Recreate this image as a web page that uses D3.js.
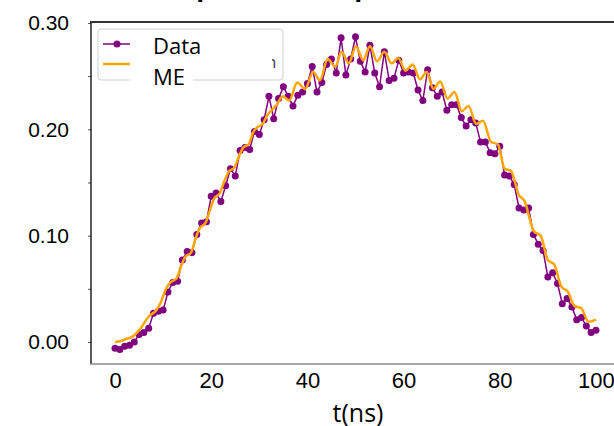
<!DOCTYPE html>
<html>
<head>
<meta charset="utf-8">
<script src="https://cdn.jsdelivr.net/npm/d3@7"></script>
<style>
  body { margin: 0; background: #fff; }
  svg { display: block; font-family: "Open Sans", sans-serif; }
</style>
</head>
<body>
<div id="chart"></div>
<script>
// measured population (one point per ns)
const tData = d3.range(0, 101);
const popData = [
  -0.006, -0.007, -0.004, -0.003, 0.000, 0.007, 0.009, 0.013, 0.027, 0.029,
  0.030, 0.047, 0.056, 0.057, 0.077, 0.085, 0.084, 0.101, 0.112, 0.113,
  0.137, 0.140, 0.132, 0.147, 0.163, 0.156, 0.180, 0.183, 0.181, 0.198,
  0.195, 0.209, 0.231, 0.210, 0.229, 0.240, 0.231, 0.222, 0.232, 0.235,
  0.243, 0.259, 0.235, 0.244, 0.261, 0.266, 0.253, 0.286, 0.251, 0.266,
  0.287, 0.264, 0.254, 0.279, 0.253, 0.240, 0.273, 0.246, 0.248, 0.265,
  0.253, 0.254, 0.253, 0.237, 0.227, 0.256, 0.239, 0.231, 0.235, 0.218,
  0.223, 0.223, 0.211, 0.203, 0.209, 0.206, 0.188, 0.188, 0.178, 0.177,
  0.184, 0.157, 0.156, 0.148, 0.126, 0.124, 0.126, 0.101, 0.092, 0.086,
  0.061, 0.065, 0.055, 0.036, 0.041, 0.033, 0.021, 0.023, 0.015, 0.009,
  0.011
];

// master equation curve, read at its bends
const tME = [
  0, 1.2, 2.4, 3.6, 4.8, 5.8, 7.0, 8.4, 9.4, 10.6, 11.5, 12.8, 13.8, 14.6, 15.8,
  16.8, 17.6, 18.8, 19.8, 20.6, 21.8, 22.7, 23.6, 24.8, 25.8, 26.7, 27.8, 28.7,
  29.6, 30.7, 31.6, 32.6, 33.6, 34.9, 36.2, 37.9, 39.5, 41.2, 42.6, 44.2, 45.8,
  47.1, 48.6, 50.1, 51.6, 53.0, 54.5, 56.0, 57.5, 58.9, 60.4, 61.9, 63.4, 64.8,
  66.2, 67.6, 69.1, 70.6, 72.1, 73.5, 75.1, 76.5, 78.2, 79.6, 81.0, 82.3, 84.0,
  85.1, 87.1, 88.5, 90.0, 91.3, 92.8, 94.2, 95.5, 96.9, 98.5, 100
];
const popME = [
  0.000, 0.001, 0.003, 0.005, 0.010, 0.016, 0.024, 0.029, 0.036, 0.050, 0.056,
  0.060, 0.072, 0.080, 0.084, 0.098, 0.107, 0.112, 0.125, 0.135, 0.140, 0.151,
  0.160, 0.164, 0.175, 0.183, 0.186, 0.197, 0.202, 0.205, 0.213, 0.218, 0.223,
  0.231, 0.227, 0.244, 0.238, 0.254, 0.246, 0.266, 0.259, 0.273, 0.262, 0.278,
  0.265, 0.278, 0.264, 0.273, 0.262, 0.267, 0.255, 0.261, 0.247, 0.254, 0.238,
  0.245, 0.229, 0.235, 0.217, 0.222, 0.205, 0.208, 0.188, 0.186, 0.163, 0.161,
  0.138, 0.133, 0.104, 0.100, 0.077, 0.073, 0.052, 0.047, 0.034, 0.032, 0.019,
  0.021
];

const xTicks = [0, 20, 40, 60, 80, 100];
const yTicks = [0, 0.05, 0.10, 0.15, 0.20, 0.25, 0.30];
const legendLabels = ["Data", "ME"];

const width = 614, height = 426;
const purple = "#800080", orange = "#FFA500";

let svg = d3.select("#chart")
  .append("svg")
  .attr("width", width)
  .attr("height", height);

let x = d3.scaleLinear().domain([-5, 105]).range([91, 620]);
let y = d3.scaleLinear().domain([-0.0207, 0.3009]).range([364, 22]);

// title, almost all of it above the visible area
svg.append("text")
  .attr("x", 372)
  .attr("y", -4)
  .attr("text-anchor", "middle")
  .style("font-size", "26px")
  .style("font-weight", "bold")
  .text("p-state occupation vs. time");

// axes
let yAxis = svg.append("g")
  .attr("transform", "translate(91,0)")
  .call(d3.axisLeft(y)
    .tickValues(yTicks)
    .tickSize(3)
    .tickPadding(19)
    .tickFormat(d => (Math.round(d * 100) % 10 === 0) ? d3.format(".2f")(d) : ""));
yAxis.select(".domain").remove();
yAxis.selectAll(".tick line").attr("stroke", "#555");
yAxis.selectAll(".tick text")
  .style("font-size", "21px")
  .attr("fill", "#000");

let xAxis = svg.append("g")
  .attr("transform", "translate(0,364)")
  .call(d3.axisBottom(x).tickValues(xTicks).tickSize(0).tickPadding(8));
xAxis.select(".domain").remove();
xAxis.selectAll(".tick text")
  .style("font-size", "22px")
  .attr("fill", "#000");

// spines
svg.append("line").attr("x1", 91).attr("x2", 91).attr("y1", 22).attr("y2", 364)
  .attr("stroke", "#000").attr("stroke-width", 1.3);
svg.append("line").attr("x1", 90).attr("x2", width).attr("y1", 22).attr("y2", 22)
  .attr("stroke", "#333").attr("stroke-width", 2);
svg.append("line").attr("x1", 90).attr("x2", width).attr("y1", 364).attr("y2", 364)
  .attr("stroke", "#888").attr("stroke-width", 1.5);

svg.append("text")
  .attr("x", 358)
  .attr("y", 422)
  .attr("text-anchor", "middle")
  .style("font-size", "25px")
  .text("t(ns)");

// data
let dataPts = tData.map((t, i) => [t, popData[i]]);
svg.append("path")
  .datum(dataPts)
  .attr("fill", "none")
  .attr("stroke", purple)
  .attr("stroke-width", 1.5)
  .attr("d", d3.line().x(d => x(d[0])).y(d => y(d[1])));

svg.append("g")
  .selectAll("circle")
  .data(dataPts)
  .enter()
  .append("circle")
    .attr("cx", d => x(d[0]))
    .attr("cy", d => y(d[1]))
    .attr("r", 3.5)
    .attr("fill", purple);

let mePts = tME.map((t, i) => [t, popME[i]]);
svg.append("path")
  .datum(mePts)
  .attr("fill", "none")
  .attr("stroke", orange)
  .attr("stroke-width", 2.5)
  .attr("d", d3.line().curve(d3.curveMonotoneX).x(d => x(d[0])).y(d => y(d[1])));

// legend (box is a bit too small for its text, as in the figure)
let legend = svg.append("g");
legend.append("rect")
  .attr("x", 98).attr("y", 29).attr("width", 185).attr("height", 51)
  .attr("rx", 3)
  .attr("fill", "#fff")
  .attr("stroke", "#d0d0d0");

svg.append("clipPath").attr("id", "frag")
  .append("rect").attr("x", 272).attr("y", 50).attr("width", 6).attr("height", 30);
legend.append("text")
  .attr("x", 266).attr("y", 68)
  .attr("clip-path", "url(#frag)")
  .attr("fill", "#444")
  .style("font-size", "17px")
  .text("n");

legend.append("line")
  .attr("x1", 103).attr("x2", 130).attr("y1", 44).attr("y2", 44)
  .attr("stroke", purple).attr("stroke-width", 1.5);
legend.append("circle")
  .attr("cx", 117).attr("cy", 44).attr("r", 3.5).attr("fill", purple);
legend.append("line")
  .attr("x1", 103).attr("x2", 130).attr("y1", 64).attr("y2", 64)
  .attr("stroke", orange).attr("stroke-width", 2.5);

legend.append("rect")
  .attr("x", 131).attr("y", 57).attr("width", 62).attr("height", 32)
  .attr("fill", "#fff");

legend.selectAll("text.lab")
  .data(legendLabels)
  .enter()
  .append("text")
    .attr("class", "lab")
    .attr("x", 153)
    .attr("y", (d, i) => i === 0 ? 54 : 85)
    .style("font-size", "22px")
    .text(d => d);
</script>
</body>
</html>
